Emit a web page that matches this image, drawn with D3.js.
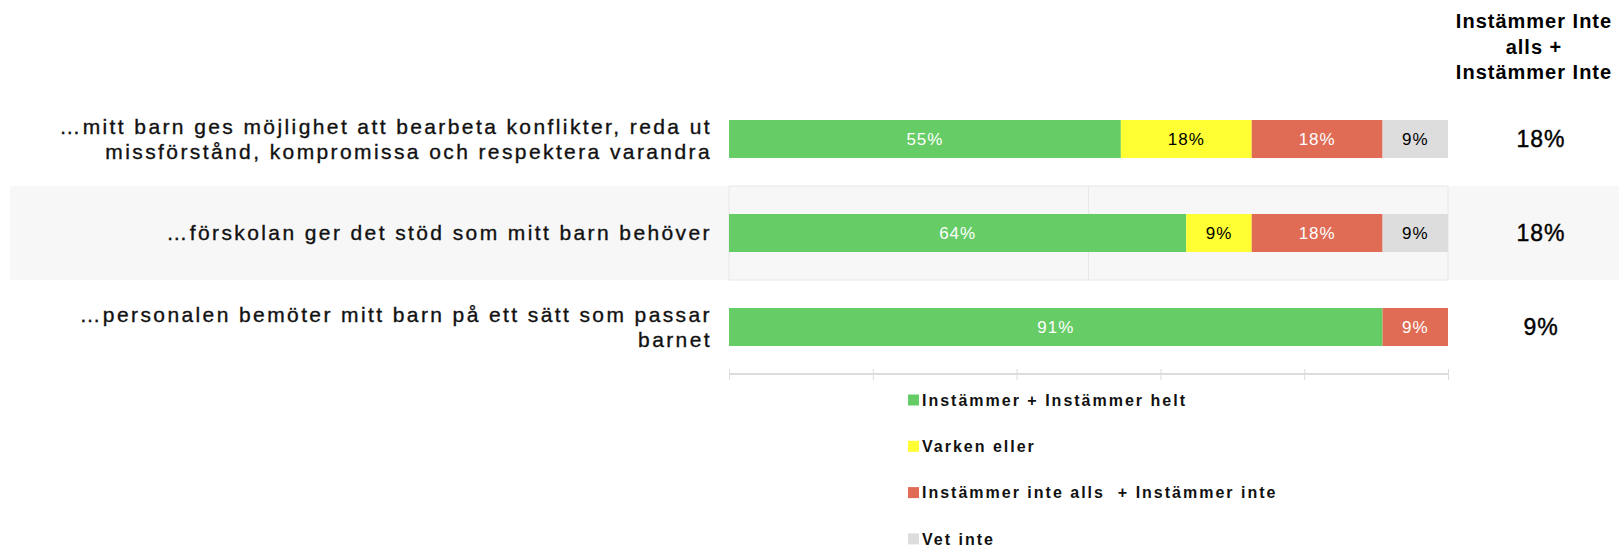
<!DOCTYPE html>
<html>
<head>
<meta charset="utf-8">
<script src="https://cdn.jsdelivr.net/npm/d3@7"></script>
<style>
  body { margin: 0; background: #fff; }
  svg { display: block; font-family: "Liberation Sans", Arial, sans-serif; }
</style>
</head>
<body>
<div id="chart"></div>
<script>

// questions (each inner array = the wrapped lines of the label)
var questions = [
    ["…mitt barn ges möjlighet att bearbeta konflikter, reda ut", "missförstånd, kompromissa och respektera varandra"],
    ["…förskolan ger det stöd som mitt barn behöver"],
    ["…personalen bemöter mitt barn på ett sätt som passar", "barnet"]
];

var seriesNames = ["Instämmer + Instämmer helt", "Varken eller", "Instämmer inte alls  + Instämmer inte", "Vet inte"];
var seriesColors = ["#66cc66", "#ffff33", "#e06c55", "#dddddd"];
var seriesTextColors = ["#ffffff", "#000000", "#ffffff", "#000000"];

// percentages per series, one value per question
var agree = [54.5, 63.6, 90.9];
var neither = [18.2, 9.1, 0];
var disagree = [18.2, 18.2, 9.1];
var dontKnow = [9.1, 9.1, 0];

// right hand column
var summaryTitle = ["Instämmer Inte", "alls  +", "Instämmer Inte"];
var summaryValues = ["18%", "18%", "9%"];

var xTicks = [0, 20, 40, 60, 80, 100];

var W = 1619, H = 547;
var margin = { left: 729, right: W - 1448, top: 92, bottom: H - 374 };

var svg = d3.select("#chart")
    .append("svg")
    .attr("width", W)
    .attr("height", H);

var x = d3.scaleLinear()
    .domain([0, 100])
    .range([margin.left, W - margin.right]);

var y = d3.scaleBand()
    .domain(d3.range(questions.length))
    .range([margin.top, H - margin.bottom])
    .padding(0);

var barH = 38;

// alternating row band
svg.selectAll(".band")
    .data(d3.range(questions.length).filter(function (i) { return i % 2 == 1; }))
    .enter()
    .append("rect")
    .attr("x", 10)
    .attr("y", function (i) { return y(i); })
    .attr("width", W - 10)
    .attr("height", y.bandwidth())
    .attr("fill", "#f7f7f7");

// faint grid, only visible on the band
svg.selectAll(".band-grid")
    .data(d3.range(questions.length).filter(function (i) { return i % 2 == 1; }))
    .enter()
    .append("g")
    .each(function (i) {
        var g = d3.select(this);
        [0, 50, 100].forEach(function (v) {
            g.append("line")
                .attr("x1", x(v)).attr("x2", x(v))
                .attr("y1", y(i)).attr("y2", y(i) + y.bandwidth())
                .attr("stroke", "#e8e8e8");
        });
        [y(i), y(i) + y.bandwidth()].forEach(function (yy) {
            g.append("line")
                .attr("x1", x(0)).attr("x2", x(100))
                .attr("y1", yy).attr("y2", yy)
                .attr("stroke", "#e8e8e8");
        });
    });

// stack the series
var rows = questions.map(function (q, i) {
    return { i: i, v: [agree[i], neither[i], disagree[i], dontKnow[i]] };
});

var segs = [];
rows.forEach(function (r) {
    var acc = 0;
    r.v.forEach(function (v, s) {
        if (v > 0) segs.push({ i: r.i, s: s, x0: acc, x1: acc + v, v: v });
        acc += v;
    });
});

var bars = svg.selectAll(".seg")
    .data(segs)
    .enter()
    .append("g");

bars.append("rect")
    .attr("x", function (d) { return x(d.x0); })
    .attr("y", function (d) { return y(d.i) + y.bandwidth() / 2 - barH / 2; })
    .attr("width", function (d) { return x(d.x1) - x(d.x0); })
    .attr("height", barH)
    .attr("fill", function (d) { return seriesColors[d.s]; });

bars.append("text")
    .attr("x", function (d) { return (x(d.x0) + x(d.x1)) / 2; })
    .attr("y", function (d) { return y(d.i) + y.bandwidth() / 2; })
    .attr("dy", "0.36em")
    .attr("text-anchor", "middle")
    .style("font-size", "17px")
    .style("letter-spacing", "1px")
    .attr("fill", function (d) { return seriesTextColors[d.s]; })
    .text(function (d) { return Math.round(d.v) + "%"; });

// question labels
var labels = svg.selectAll(".qlabel")
    .data(questions)
    .enter()
    .append("text")
    .attr("text-anchor", "end")
    .style("font-size", "21px")
    .style("letter-spacing", "2.4px")
    .attr("fill", "#111")
    .attr("stroke", "#111")
    .attr("stroke-width", 0.35);

labels.each(function (lines, i) {
    var t = d3.select(this);
    var cy = y(i) + y.bandwidth() / 2;
    var lh = 25;
    var start = cy - (lines.length - 1) * lh / 2;
    lines.forEach(function (l, k) {
        t.append("tspan")
            .attr("x", 712)
            .attr("y", start + k * lh)
            .attr("dy", "0.35em")
            .text(l);
    });
});

// x axis, no labels
var axis = svg.append("g")
    .attr("transform", "translate(0," + 374 + ")")
    .call(d3.axisBottom(x).tickValues(xTicks).tickSize(6).tickFormat(""));

axis.select(".domain").remove();
axis.selectAll("line").attr("y1", -5).attr("stroke", "#dcdcdc");
axis.append("line")
    .attr("x1", x(0)).attr("x2", x(100))
    .attr("stroke", "#dcdcdc").attr("stroke-width", 2);

// summary column
svg.append("text")
    .attr("text-anchor", "middle")
    .style("font-size", "20px")
    .style("font-weight", "bold")
    .style("letter-spacing", "1px")
    .attr("fill", "#000")
    .selectAll("tspan")
    .data(summaryTitle)
    .enter()
    .append("tspan")
    .attr("x", 1534)
    .attr("y", function (d, k) { return 21 + k * 25.5; })
    .attr("dy", "0.35em")
    .text(function (d) { return d; });

svg.selectAll(".summary")
    .data(summaryValues)
    .enter()
    .append("text")
    .attr("x", 1541)
    .attr("y", function (d, i) { return y(i) + y.bandwidth() / 2; })
    .attr("dy", "0.36em")
    .attr("text-anchor", "middle")
    .style("font-size", "23px")
    .style("letter-spacing", "1px")
    .attr("fill", "#000")
    .attr("stroke", "#000")
    .attr("stroke-width", 0.4)
    .text(function (d) { return d; });

// legend
var legend = svg.selectAll(".legend")
    .data(seriesNames)
    .enter()
    .append("g")
    .attr("transform", function (d, i) { return "translate(908," + (400 + i * 46.3) + ")"; });

legend.append("rect")
    .attr("x", 0)
    .attr("y", -5.5)
    .attr("width", 11)
    .attr("height", 11)
    .style("fill", function (d, i) { return seriesColors[i]; });

legend.append("text")
    .attr("x", 14)
    .attr("y", 0)
    .attr("dy", "0.36em")
    .style("font-size", "16px")
    .style("font-weight", "bold")
    .style("letter-spacing", "2px")
    .style("fill", "#111")
    .style("white-space", "pre")
    .text(function (d) { return d; });

</script>
</body>
</html>
